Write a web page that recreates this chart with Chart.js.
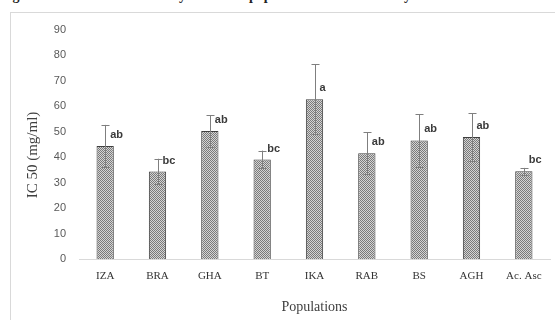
<!DOCTYPE html>
<html>
<head>
<meta charset="utf-8">
<script src="https://cdn.jsdelivr.net/npm/chart.js@4.4.0/dist/chart.umd.min.js"></script>
<style>
    html, body { margin: 0; padding: 0; background: #fff; }
    body { width: 555px; height: 320px; position: relative; overflow: hidden; }
    .caption {
        position: absolute; left: 0; top: -12px; white-space: nowrap;
        font: bold 14px "Liberation Serif", "Times New Roman", serif; color: #222;
    }
    .frame {
        position: absolute; left: 10px; top: 12px; width: 600px; height: 400px;
        border: 1px solid #d9d9d9;
    }
    #chart { position: absolute; left: 0; top: 0; }
</style>
</head>
<body>
<div class="caption">Fig. 2: IC50 values obtained by methanol populations of common myrtle methanolic extracts and ascorbic acid</div>
<div class="frame"></div>
<canvas id="chart" width="555" height="320"></canvas>
<script>
const categories = ['IZA', 'BRA', 'GHA', 'BT', 'IKA', 'RAB', 'BS', 'AGH', 'Ac. Asc'];
const ic50 = [44.4, 34.4, 50.3, 39.1, 62.8, 41.6, 46.6, 47.9, 34.5];
const sd = [8.3, 5.0, 6.2, 3.5, 13.7, 8.3, 10.3, 9.3, 1.3];
const groups = ['ab', 'bc', 'ab', 'bc', 'a', 'ab', 'ab', 'ab', 'bc'];
const yTicks = [0, 10, 20, 30, 40, 50, 60, 70, 80, 90];

function makePattern() {
    const c = document.createElement('canvas');
    c.width = 2; c.height = 2;
    const g = c.getContext('2d');
    g.fillStyle = '#d4d4d4';
    g.fillRect(0, 0, 2, 2);
    g.fillStyle = '#7a7a7a';
    g.fillRect(0, 0, 1, 1);
    g.fillRect(1, 1, 1, 1);
    return g.createPattern(c, 'repeat');
}

const errorBars = {
    id: 'errorBars',
    afterDatasetsDraw(chart) {
        const { ctx, scales: { y } } = chart;
        const meta = chart.getDatasetMeta(0);
        ctx.save();
        meta.data.forEach((bar, i) => {
            const top = y.getPixelForValue(ic50[i] + sd[i]);
            const bot = y.getPixelForValue(ic50[i] - sd[i]);
            const x = Math.round(bar.x) + 0.5;
            ctx.strokeStyle = '#7f7f7f';
            ctx.lineWidth = 1;
            ctx.beginPath();
            ctx.moveTo(x, top); ctx.lineTo(x, bot);
            ctx.moveTo(x - 4, Math.round(top) + 0.5); ctx.lineTo(x + 4, Math.round(top) + 0.5);
            ctx.moveTo(x - 4, Math.round(bot) + 0.5); ctx.lineTo(x + 4, Math.round(bot) + 0.5);
            ctx.stroke();

            ctx.fillStyle = '#3a3a3a';
            ctx.font = 'bold 11px "Liberation Sans", Arial, sans-serif';
            ctx.textAlign = 'left';
            ctx.textBaseline = 'middle';
            ctx.fillText(groups[i], bar.x + 5, y.getPixelForValue(ic50[i]) - 11);
        });
        ctx.restore();
    }
};

const yTitle = {
    id: 'yTitle',
    afterDraw(chart) {
        const { ctx } = chart;
        ctx.save();
        ctx.translate(33, 155);
        ctx.rotate(-Math.PI / 2);
        ctx.fillStyle = '#404040';
        ctx.font = '15px "Liberation Serif", "Times New Roman", serif';
        ctx.textAlign = 'center';
        ctx.textBaseline = 'middle';
        ctx.fillText('IC 50 (mg/ml)', 0, 0);
        ctx.restore();
    }
};

new Chart(document.getElementById('chart'), {
    type: 'bar',
    data: {
        labels: categories,
        datasets: [{
            data: ic50,
            backgroundColor: makePattern(),
            borderColor: '#3f3f3f',
            borderWidth: 1,
            barPercentage: 0.33,
            categoryPercentage: 1,
        }]
    },
    options: {
        responsive: false,
        animation: false,
        layout: { padding: { left: 0, right: 5, top: 30, bottom: 4 } },
        plugins: { legend: { display: false }, tooltip: { enabled: false } },
        scales: {
            x: {
                grid: { display: false, drawTicks: false },
                border: { color: '#d9d9d9' },
                ticks: {
                    color: '#333',
                    padding: 11,
                    font: { family: '"Liberation Serif", "Times New Roman", serif', size: 11 },
                },
                title: {
                    display: true,
                    text: 'Populations',
                    color: '#404040',
                    padding: { top: 5, bottom: 0 },
                    font: { family: '"Liberation Serif", "Times New Roman", serif', size: 14 },
                },
            },
            y: {
                min: 0, max: 90,
                afterFit(scale) { scale.width = 79; },
                afterBuildTicks(scale) { scale.ticks = yTicks.map(v => ({ value: v })); },
                grid: { display: false, drawTicks: false },
                border: { display: false },
                ticks: {
                    color: '#595959',
                    padding: 13,
                    font: { family: '"Liberation Sans", Arial, sans-serif', size: 11 },
                },
            },
        }
    },
    plugins: [errorBars, yTitle]
});
</script>
</body>
</html>
